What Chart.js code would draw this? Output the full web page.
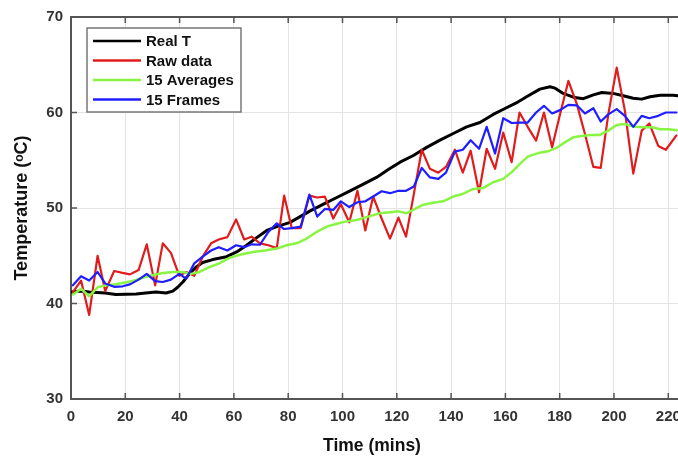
<!DOCTYPE html>
<html>
<head>
<meta charset="utf-8">
<script src="https://cdn.jsdelivr.net/npm/chart.js@4.4.1/dist/chart.umd.min.js"></script>
<style>
  html, body { margin: 0; padding: 0; background: #fff; }
  #wrap { width: 678px; height: 457px; overflow: hidden; }
</style>
</head>
<body>
<div id="wrap"><canvas id="chart" width="720" height="457"></canvas></div>
<script>
// data
const rawTime = [0.7, 3.7, 6.7, 9.8, 12.6, 15.9, 19.0, 21.7, 24.9, 27.9, 31.0, 33.8, 36.8, 39.9, 42.4, 45.4, 48.5, 51.6, 54.4, 57.6,
    60.8, 63.8, 66.5, 69.6, 72.7, 75.8, 78.5, 81.3, 84.6, 87.8, 90.7, 93.5, 96.6, 99.4, 102.5, 105.5, 108.4, 111.3, 114.4, 117.5,
    120.6, 123.4, 126.3, 129.2, 132.2, 135.3, 138.1, 141.4, 144.3, 147.2, 150.3, 153.1, 156.2, 159.2, 162.3, 165.2, 168.2, 171.3,
    174.2, 177.2, 180.1, 183.2, 186.3, 189.3, 192.4, 195.1, 197.9, 201.0, 204.0, 207.1, 210.2, 213.0, 216.3, 219.1, 223.0];
const rawTemp = [41.2, 42.4, 38.8, 45.0, 41.3, 43.4, 43.2, 43.05, 43.5, 46.2, 41.9, 46.3, 45.3, 42.9, 43.3, 42.9, 44.9, 46.3, 46.7, 46.95,
    48.8, 46.7, 47.0, 46.3, 46.1, 45.8, 51.3, 47.9, 47.9, 51.3, 51.1, 51.2, 48.9, 50.4, 48.5, 51.8, 47.65, 51.2, 48.9, 46.8,
    49.0, 47.0, 51.5, 56.1, 54.1, 53.7, 54.3, 56.1, 53.7, 56.0, 51.65, 56.2, 54.1, 57.9, 54.8, 60.0, 58.5, 57.05,
    60.0, 56.35, 59.8, 63.3, 60.9, 57.75, 54.3, 54.2, 59.8, 64.7, 60.2, 53.6, 58.1, 58.85, 56.5, 56.1, 57.6];
const framesTemp = [41.9, 42.85, 42.4, 43.3, 42.1, 41.75, 41.8, 42.0, 42.5, 43.1, 42.35, 42.25, 42.5, 43.1, 42.6, 44.2, 44.9, 45.55, 45.9, 45.55,
    46.1, 45.9, 46.2, 46.15, 47.5, 48.4, 47.8, 47.9, 48.05, 51.4, 49.1, 49.9, 49.8, 50.7, 50.1, 50.6, 50.7, 51.2, 51.75, 51.55,
    51.8, 51.8, 52.25, 54.2, 53.2, 53.05, 53.7, 55.9, 56.1, 57.1, 56.2, 58.5, 55.7, 59.4, 58.9, 58.95, 58.95, 60.0,
    60.7, 59.9, 60.25, 60.8, 60.75, 59.9, 60.45, 59.05, 59.8, 60.35, 59.65, 58.5, 59.65, 59.4, 59.65, 60.0, 60.0];

const realTime = [0, 3.7, 6.7, 12.6, 16.5, 24.0, 27.5, 31.3, 35.0, 37.5, 39.3, 41.2, 43.6, 46.0, 48.5, 52.2, 57.3, 61.0, 64.7, 68.4,
    72.1, 75.8, 80.7, 84.4, 88.1, 93.0, 97.9, 102.8, 107.7, 112.5, 117.3, 121.2, 126.1, 131.0, 135.9, 140.8, 145.7, 150.6, 155.5,
    160.4, 164.0, 167.8, 172.7, 176.4, 178.3, 181.3, 185.0, 188.7, 192.4, 195.5, 199.7, 203.4, 207.1, 210.2, 213.3, 217.0, 221.8, 223.5];
const realTemp = [41.2, 41.3, 41.2, 41.1, 40.95, 41.0, 41.1, 41.2, 41.1, 41.3, 41.7, 42.25, 43.1, 43.8, 44.3, 44.6, 44.9, 45.4, 46.1, 46.9,
    47.65, 48.05, 48.5, 49.1, 49.7, 50.4, 51.1, 51.8, 52.5, 53.2, 54.1, 54.8, 55.5, 56.35, 57.1, 57.8, 58.5, 58.95, 59.8,
    60.5, 61.0, 61.65, 62.45, 62.7, 62.55, 62.0, 61.6, 61.45, 61.85, 62.1, 62.0, 61.75, 61.5, 61.4, 61.65, 61.8, 61.8, 61.75];

const avgTime = [0.8, 3.7, 6.7, 9.8, 12.6, 15.9, 19.0, 22.7, 26.4, 30.1, 33.8, 37.5, 41.1, 44.2, 47.3, 50.9, 54.6, 58.6, 62.9, 67.1,
    71.5, 75.8, 79.4, 83.1, 86.8, 90.5, 94.2, 97.9, 101.5, 105.2, 110.1, 113.8, 117.5, 120.6, 123.6, 126.7, 129.8, 133.4, 137.1,
    140.8, 144.5, 148.2, 151.9, 155.5, 159.2, 162.5, 166.0, 168.4, 172.1, 175.8, 178.9, 182.0, 185.0, 188.1, 191.2, 194.8, 197.9,
    201.0, 204.0, 207.7, 210.8, 213.9, 217.0, 220.1, 223.2];
const avgTemp = [40.95, 41.55, 40.75, 41.7, 41.9, 42.0, 42.15, 42.35, 42.7, 42.95, 43.2, 43.3, 43.3, 43.1, 43.3, 43.8, 44.2, 44.8, 45.15, 45.4,
    45.55, 45.75, 46.1, 46.3, 46.8, 47.5, 48.05, 48.35, 48.6, 48.75, 49.15, 49.45, 49.55, 49.65, 49.45, 49.9, 50.35, 50.55, 50.7,
    51.2, 51.5, 52.0, 52.1, 52.7, 53.05, 53.8, 54.8, 55.4, 55.75, 55.95, 56.3, 56.9, 57.4, 57.55, 57.65, 57.65, 58.1,
    58.7, 58.8, 58.5, 58.45, 58.45, 58.25, 58.25, 58.15];

const seriesNames = ["Real T", "Raw data", "15 Averages", "15 Frames"];
const xTitle = "Time (mins)";
const yTitle = "Temperature (\u1D52C)";

const FONT = "'Liberation Sans', Arial, 'DejaVu Sans', sans-serif";
const PLOT_LEFT = 71, PLOT_TOP = 16, PLOT_BOTTOM = 399;
const X_MAX = 230, PX_PER_MIN = 2.715;
const CANVAS_W = 720, CANVAS_H = 457;

function pairs(xs, ys) {
    return xs.map((x, i) => ({ x: x, y: ys[i] }));
}

// top border + inward tick marks (MATLAB style box)
const framePlugin = {
    id: "frame",
    beforeDatasetsDraw(chart) {
        const { ctx, chartArea, scales } = chart;
        ctx.save();
        ctx.strokeStyle = "#555";
        ctx.lineWidth = 2;
        ctx.beginPath();
        ctx.moveTo(chartArea.left - 1, chartArea.top);
        ctx.lineTo(chartArea.right, chartArea.top);
        ctx.stroke();
        ctx.lineWidth = 1.5;
        ctx.beginPath();
        scales.x.ticks.forEach((t) => {
            const px = scales.x.getPixelForValue(t.value);
            ctx.moveTo(px, chartArea.bottom);
            ctx.lineTo(px, chartArea.bottom - 6);
            ctx.moveTo(px, chartArea.top);
            ctx.lineTo(px, chartArea.top + 6);
        });
        scales.y.ticks.forEach((t) => {
            const py = scales.y.getPixelForValue(t.value);
            ctx.moveTo(chartArea.left, py);
            ctx.lineTo(chartArea.left + 6, py);
        });
        ctx.stroke();
        ctx.restore();
    },
    afterDraw(chart) {
        const ctx = chart.ctx;
        ctx.save();
        ctx.fillStyle = "#111";
        ctx.font = "bold 17.5px " + FONT;
        ctx.textAlign = "center";
        ctx.textBaseline = "middle";
        ctx.fillText(xTitle, 372, 446);
        ctx.restore();
    },
};

// boxed legend inside the plot, upper left
const boxLegend = {
    id: "boxLegend",
    afterDatasetsDraw(chart) {
        const ctx = chart.ctx;
        const bx = 87, by = 28, bw = 154, bh = 84;
        ctx.save();
        ctx.fillStyle = "#fff";
        ctx.fillRect(bx, by, bw, bh);
        ctx.strokeStyle = "#777";
        ctx.lineWidth = 1.5;
        ctx.strokeRect(bx, by, bw, bh);
        ctx.font = "bold 15px " + FONT;
        ctx.textBaseline = "middle";
        chart.data.datasets.forEach((ds, i) => {
            const y = by + 13 + i * 19.5;
            ctx.strokeStyle = ds.borderColor;
            ctx.lineWidth = 2.5;
            ctx.beginPath();
            ctx.moveTo(bx + 6, y);
            ctx.lineTo(bx + 54, y);
            ctx.stroke();
            ctx.fillStyle = "#111";
            ctx.fillText(ds.label, bx + 59, y + 1);
        });
        ctx.restore();
    },
};

const ctx = document.getElementById("chart").getContext("2d");
new Chart(ctx, {
    type: "line",
    data: {
        datasets: [
            { label: seriesNames[0], data: pairs(realTime, realTemp), borderColor: "#000000", borderWidth: 3, order: 4 },
            { label: seriesNames[1], data: pairs(rawTime, rawTemp), borderColor: "#e01c1c", borderWidth: 2.2, order: 3 },
            { label: seriesNames[2], data: pairs(avgTime, avgTemp), borderColor: "#88f543", borderWidth: 2.5, order: 2 },
            { label: seriesNames[3], data: pairs(rawTime, framesTemp), borderColor: "#1e1eff", borderWidth: 2.2, order: 1 },
        ],
    },
    options: {
        responsive: false,
        animation: false,
        devicePixelRatio: 1,
        elements: { point: { radius: 0 }, line: { tension: 0, borderCapStyle: "round", borderJoinStyle: "round" } },
        layout: {
            padding: { top: PLOT_TOP, left: 0, bottom: 0, right: CANVAS_W - PLOT_LEFT - X_MAX * PX_PER_MIN },
        },
        plugins: { legend: { display: false }, tooltip: { enabled: false } },
        scales: {
            x: {
                type: "linear",
                min: 0,
                max: X_MAX,
                afterFit: (s) => { s.height = CANVAS_H - PLOT_BOTTOM; },
                grid: { color: "#e4e4e4", lineWidth: 1, drawTicks: false },
                border: { display: true, color: "#555", width: 2 },
                ticks: {
                    stepSize: 20,
                    includeBounds: false,
                    padding: 9,
                    maxRotation: 0,
                    color: "#333",
                    font: { family: FONT, size: 15, weight: "bold" },
                },
            },
            y: {
                min: 30,
                max: 70,
                afterFit: (s) => { s.width = PLOT_LEFT; },
                grid: { color: "#e4e4e4", lineWidth: 1, drawTicks: false },
                border: { display: true, color: "#555", width: 2 },
                ticks: {
                    stepSize: 10,
                    padding: 8,
                    color: "#333",
                    font: { family: FONT, size: 15, weight: "bold" },
                },
                title: {
                    display: true,
                    text: yTitle,
                    color: "#111",
                    font: { family: FONT, size: 18, weight: "bold" },
                    padding: { top: 11, bottom: 0 },
                },
            },
        },
    },
    plugins: [framePlugin, boxLegend],
});
</script>
</body>
</html>
